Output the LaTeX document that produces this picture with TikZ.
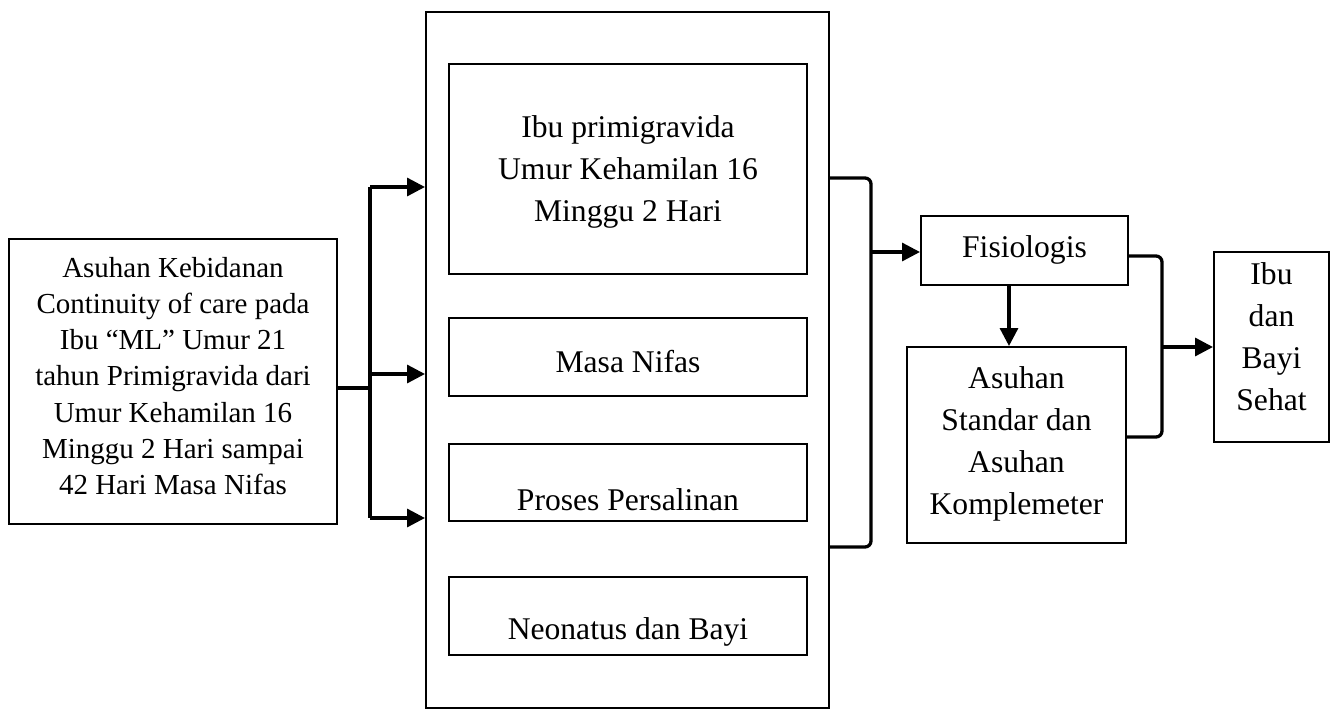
\documentclass[tikz,border=0pt]{standalone}
\usepackage{fontspec}
\setmainfont{Liberation Serif}
\usetikzlibrary{arrows.meta}
\begin{document}
\begin{tikzpicture}[x=1pt,y=-1pt,
  box/.style={draw,line width=2pt,inner sep=0pt},
  txt/.style={align=center,inner sep=0pt,font=\fontsize{31.6}{42}\selectfont},
  txtsmall/.style={align=center,inner sep=0pt,font=\fontsize{29}{36.3}\selectfont},
  conn/.style={line width=3.3pt},
  arr/.style={conn,-{Triangle[length=18pt,width=18pt]}},
  brk/.style={conn,rounded corners=6pt}]
\useasboundingbox (0,0) rectangle (1339,720);
% boxes
\node[box,minimum width=403pt,minimum height=696pt] (big) at (627.5,360) {};
\node[box,minimum width=328pt,minimum height=285pt] (left) at (173,381.5) {};
\node[txtsmall] (leftt) at (173,376)
  {Asuhan Kebidanan\\Continuity of care pada\\Ibu “ML” Umur 21\\tahun Primigravida dari\\Umur Kehamilan 16\\Minggu 2 Hari sampai\\42 Hari Masa Nifas};
\node[box,minimum width=358pt,minimum height=210pt] (b1) at (628,169) {};
\node[txt] (b1t) at (628,171.6) {Ibu primigravida\\Umur Kehamilan 16\\Minggu 2 Hari};
\node[box,minimum width=358pt,minimum height=78pt] (b2) at (628,357) {};
\node[txt] (b2t) at (628,362) {Masa Nifas};
\node[box,minimum width=358pt,minimum height=77pt] (b3) at (628,482.5) {};
\node[txt] (b3t) at (628,499.6) {Proses Persalinan};
\node[box,minimum width=358pt,minimum height=78pt] (b4) at (628,616) {};
\node[txt] (b4t) at (628,631.7) {Neonatus dan Bayi};
\node[box,minimum width=207pt,minimum height=69pt] (fis) at (1024.5,250.5) {};
\node[txt] (fist) at (1024.5,249.6) {Fisiologis};
\node[box,minimum width=219pt,minimum height=196pt] (asu) at (1016.5,445) {};
\node[txt] (asut) at (1016.5,444) {Asuhan\\Standar dan\\Asuhan\\Komplemeter};
\node[box,minimum width=115pt,minimum height=190pt] (ibu) at (1271.5,347) {};
\node[txt] (ibut) at (1271.5,336.7) {Ibu\\dan\\Bayi\\Sehat};
% left connector
\coordinate (lj) at (370,388);
\coordinate (ltop) at (370,187);
\coordinate (lmid) at (370,374);
\coordinate (lbot) at (370,518);
\draw[conn] (left.east |- lj) -- (lj);
\draw[conn] (ltop) -- (lbot);
\draw[arr] (ltop) -- (big.west |- ltop);
\draw[arr] (lmid) -- (big.west |- lmid);
\draw[arr] (lbot) -- (big.west |- lbot);
% right bracket 1
\coordinate (r1t) at (871,178);
\coordinate (r1b) at (871,547);
\coordinate (r1m) at (871,252);
\draw[brk] (big.east |- r1t) -- (r1t) -- (r1b) -- (big.east |- r1b);
\draw[arr] (r1m) -- (fis.west |- r1m);
% fis -> asu
\coordinate (va) at (1009,0);
\draw[arr] (fis.south -| va) -- (asu.north -| va);
% right bracket 2
\coordinate (r2t) at (1162,256);
\coordinate (r2b) at (1162,437);
\coordinate (r2m) at (1162,347);
\draw[brk] (fis.east |- r2t) -- (r2t) -- (r2b) -- (asu.east |- r2b);
\draw[arr] (r2m) -- (ibu.west |- r2m);
\end{tikzpicture}
\end{document}
